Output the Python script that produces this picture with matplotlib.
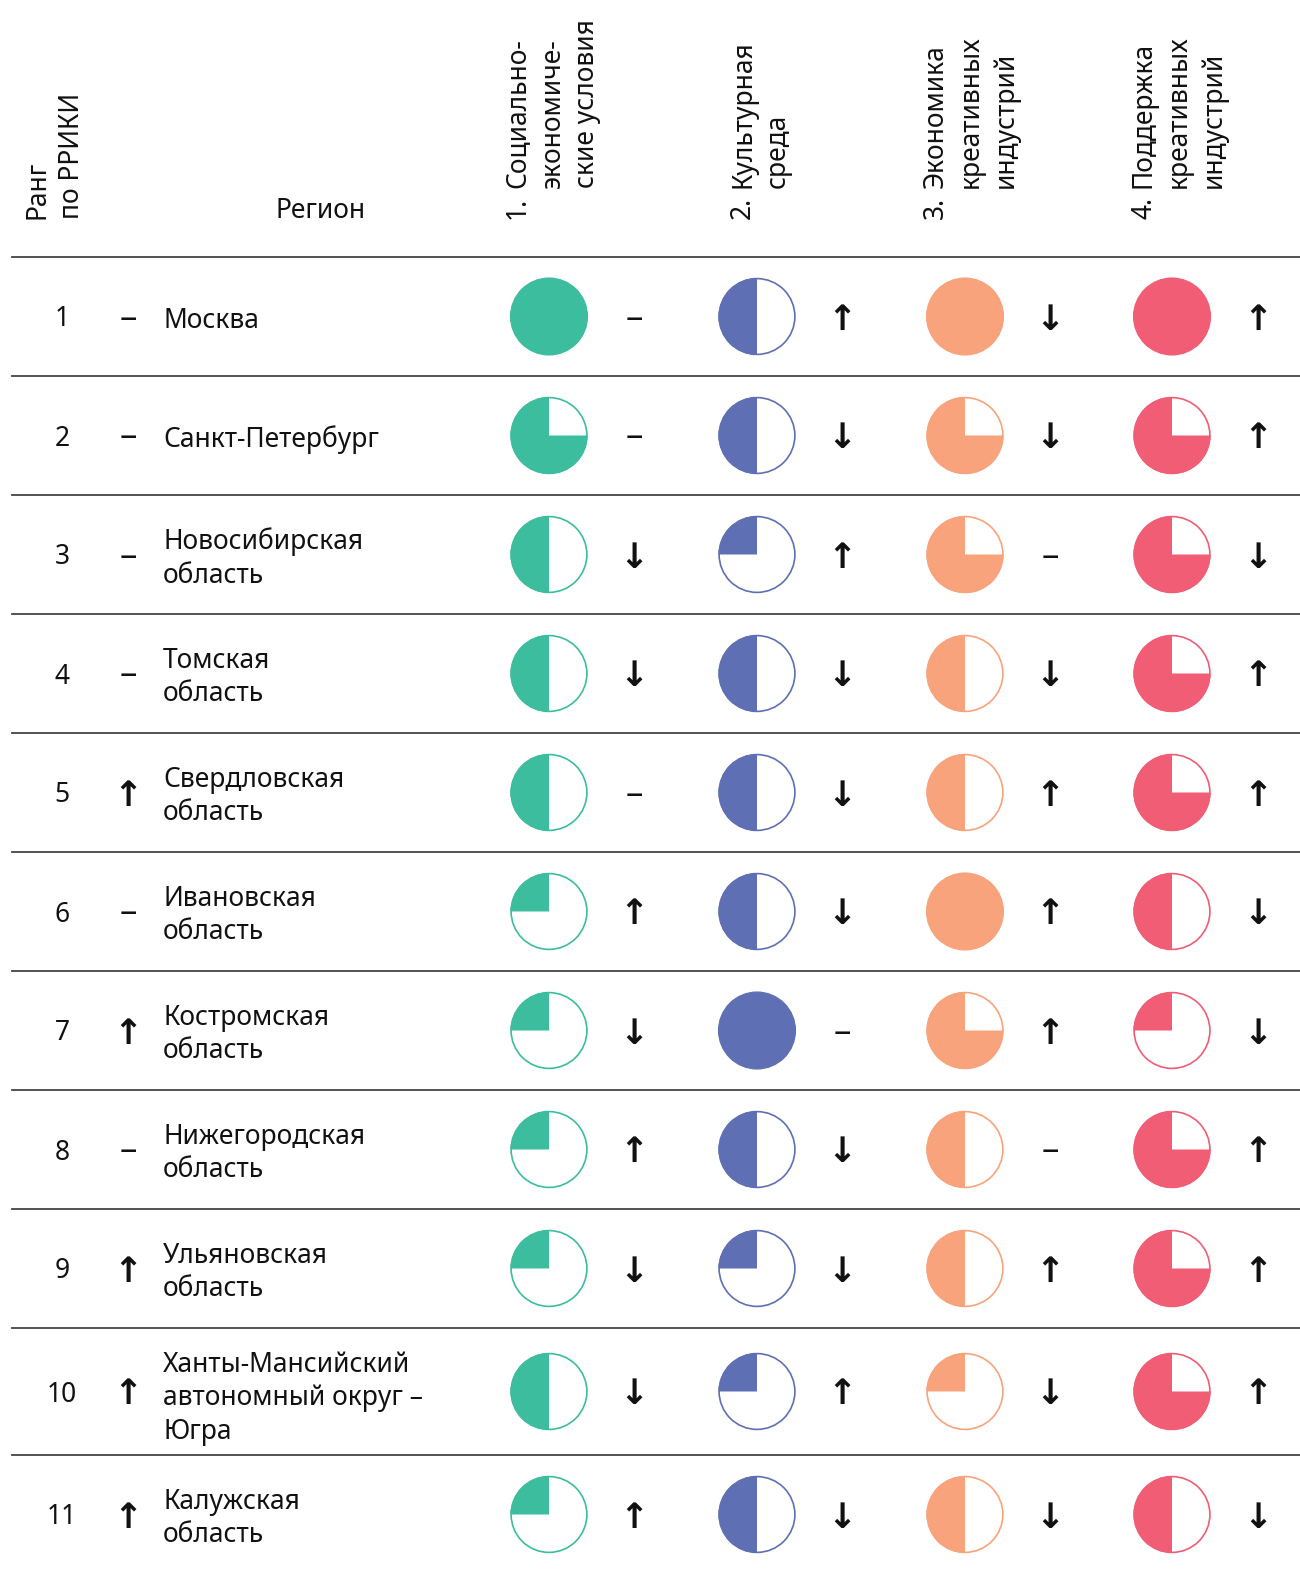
import matplotlib
matplotlib.use("Agg")
import matplotlib.pyplot as plt
from matplotlib.patches import Wedge, Circle

# ---------------- data ----------------
ranks = [1, 2, 3, 4, 5, 6, 7, 8, 9, 10, 11]
rank_change = ['–', '–', '–', '–', '↑', '–', '↑', '–', '↑', '↑', '↑']
regions = ['Москва', 'Санкт-Петербург', 'Новосибирская\nобласть', 'Томская\nобласть',
           'Свердловская\nобласть', 'Ивановская\nобласть', 'Костромская\nобласть',
           'Нижегородская\nобласть', 'Ульяновская\nобласть',
           'Ханты-Мансийский\nавтономный округ –\nЮгра', 'Калужская\nобласть']

col_numbers = ['1.', '2.', '3.', '4.']
col_titles = ['Социально-\nэкономиче-\nские условия', 'Культурная\nсреда',
              'Экономика\nкреативных\nиндустрий', 'Поддержка\nкреативных\nиндустрий']
col_colors = ['#3BBD9E', '#5F6FB3', '#F8A37C', '#F05D75']

# scores in quarters (0..4)
score_1 = [4, 3, 2, 2, 2, 1, 1, 1, 1, 2, 1]
score_2 = [2, 2, 1, 2, 2, 2, 4, 2, 1, 1, 2]
score_3 = [4, 3, 3, 2, 2, 4, 3, 2, 2, 1, 2]
score_4 = [4, 3, 3, 3, 3, 2, 1, 3, 3, 3, 2]

change_1 = ['–', '–', '↓', '↓', '–', '↑', '↓', '↑', '↓', '↓', '↑']
change_2 = ['↑', '↓', '↑', '↓', '↓', '↓', '–', '↓', '↓', '↑', '↓']
change_3 = ['↓', '↓', '–', '↓', '↑', '↑', '↑', '–', '↑', '↓', '↓']
change_4 = ['↑', '↑', '↓', '↑', '↑', '↓', '↓', '↑', '↑', '↑', '↓']

scores = [score_1, score_2, score_3, score_4]
changes = [change_1, change_2, change_3, change_4]

# ---------------- layout ----------------
W, H = 1300, 1569
fig = plt.figure(figsize=(W / 100, H / 100), dpi=100)
ax = fig.add_axes([0, 0, 1, 1])
ax.set_xlim(0, W)
ax.set_ylim(H, 0)
ax.axis('off')

FONT = ['Noto Sans', 'DejaVu Sans']
FS = 19
TXT = '#111111'
ARROW_FONT = ['DejaVu Sans']

x_rank = 62
x_rchg = 128
x_region = 163
x_circle = [549, 757, 965, 1172]
x_arrow = [634, 842, 1050, 1258]
x_head = [518, 743, 936, 1144]
radius = 38.5
line_x0, line_x1 = 12, 1300
header_line = 257
head_bottom = 219
head_step = 33.5

# header
ax.text(38 + head_step / 2, head_bottom, 'Ранг\nпо РРИКИ', rotation=90, ha='center',
        va='bottom', multialignment='left', fontsize=FS, family=FONT, linespacing=1.33, color=TXT)
ax.text(321, 218, 'Регион', ha='center', va='baseline', fontsize=FS, family=FONT, color=TXT)
for j in range(4):
    cx = x_head[j]
    ax.text(cx, head_bottom, col_numbers[j], rotation=90, ha='center', va='bottom',
            fontsize=FS, family=FONT, color=TXT)
    nlines = col_titles[j].count('\n') + 1
    ax.text(cx + head_step * (nlines - 1) / 2 + 1, head_bottom - 31, col_titles[j], rotation=90,
            ha='center', va='bottom', multialignment='left', fontsize=FS, family=FONT,
            linespacing=1.33, color=TXT)

ax.plot([line_x0, line_x1], [header_line, header_line], color='#444', lw=1.3)

# rows
heights = [119 if r.count('\n') < 2 else 127 for r in regions]
top = header_line
arrow_fs = 25


def draw_change(x, y, sym):
    if sym == '–':
        ax.text(x, y + 2, '–', ha='center', va='center', fontsize=25, family=FONT, color=TXT)
    else:
        ax.text(x, y + 3, sym, ha='center', va='center', fontsize=arrow_fs,
                family=ARROW_FONT, fontweight='bold', color=TXT)


for i in range(len(ranks)):
    h = heights[i]
    cy = top + h / 2
    extra = 3 if regions[i].count('\n') >= 2 else 0
    ax.text(x_rank, cy + 3, str(ranks[i]), ha='center', va='center', fontsize=FS, family=FONT, color=TXT)
    draw_change(x_rchg, cy, rank_change[i])
    ax.text(x_region, cy + 4 + extra, regions[i], ha='left', va='center', fontsize=FS, family=FONT,
            linespacing=1.27, color=TXT)
    for j in range(4):
        q = scores[j][i]
        c = col_colors[j]
        xc = x_circle[j]
        if q >= 4:
            ax.add_patch(Circle((xc, cy), radius, facecolor=c, edgecolor=c, lw=0.8))
        else:
            ax.add_patch(Circle((xc, cy), radius - 0.6, facecolor='white', edgecolor=c, lw=1.2))
            # y axis is inverted: 270 is 12 o'clock; fill counterclockwise on screen
            ax.add_patch(Wedge((xc, cy), radius, 270 - 90 * q, 270, facecolor=c, edgecolor='none'))
        draw_change(x_arrow[j], cy, changes[j][i])
    top += h
    if i < len(ranks) - 1:
        ax.plot([line_x0, line_x1], [top, top], color='#444', lw=1.3)

fig.savefig('out.png', dpi=100, facecolor='white')
